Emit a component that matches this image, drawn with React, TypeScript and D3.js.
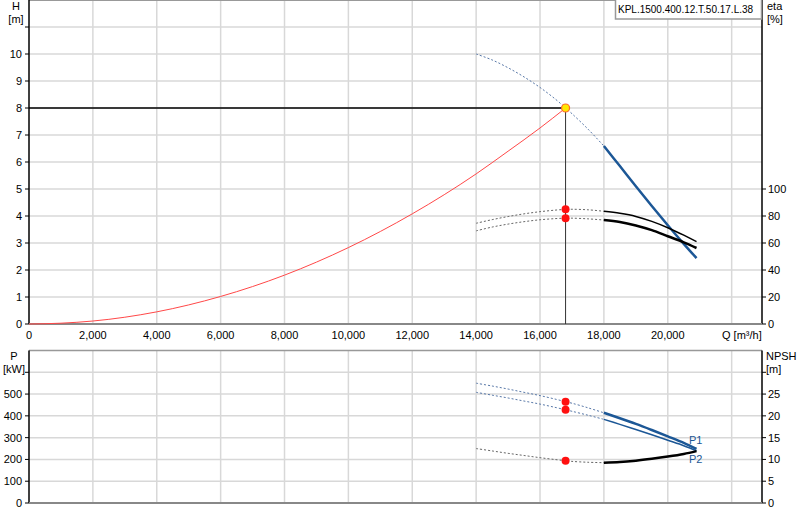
import * as d3 from "d3";
import { useEffect, useRef } from "react";

// flow axis ticks
const qTicks = [0, 2000, 4000, 6000, 8000, 10000, 12000, 14000, 16000, 18000, 20000, 22000];
const hTicks = [0, 1, 2, 3, 4, 5, 6, 7, 8, 9, 10];
const etaTicks = [0, 20, 40, 60, 80, 100];
const pTicks = [0, 100, 200, 300, 400, 500];
const npshTicks = [0, 5, 10, 15, 20, 25];

// system curve (red)
const sysQ = [0, 1000, 2000, 4000, 6000, 8000, 10000, 12000, 14000, 15000, 16000, 16800];
const sysH = [0, 0.03, 0.11, 0.45, 1.02, 1.81, 2.83, 4.08, 5.56, 6.4, 7.26, 8.0];

// pump curves
const pumpQ = [14000, 14500, 15000, 15500, 16000, 16500, 16800, 17000, 17500, 18000, 18500, 19000, 19500, 20000, 20500, 20900];
const pumpH = [10, 9.78, 9.49, 9.15, 8.76, 8.31, 8.0, 7.79, 7.22, 6.59, 5.85, 5.1, 4.37, 3.66, 2.97, 2.44];
const eta1 = [74.6, 77.3, 79.6, 81.6, 83.2, 84.4, 84.9, 85.0, 84.6, 83.5, 82.0, 79.7, 76.0, 71.3, 65.8, 61.0];
const eta2 = [69, 71.8, 74, 75.8, 77.2, 78.1, 78.4, 78.4, 77.9, 77.0, 75.6, 73.0, 69.5, 65.0, 60.5, 56.3];
const p1 = [550, 537, 523, 508, 493, 476, 465, 458, 437, 414, 389, 363, 335, 306, 276, 248];
const p2 = [508, 495, 482, 468, 454, 438, 428, 421, 403, 384, 361, 337, 313, 288, 263, 240];
const npsh = [12.5, 11.95, 11.4, 10.9, 10.4, 9.95, 9.7, 9.55, 9.35, 9.25, 9.4, 9.72, 10.15, 10.65, 11.25, 11.9];

// duty point
const dutyQ = 16800;
const dutyH = 8.0;
const dutyEta = [85, 78.4];
const dutyP = [465, 428];
const dutyNpsh = 9.7;
const solidFromQ = 18000;

const title = "KPL.1500.400.12.T.50.17.L.38";

export default function App() {
  const ref = useRef<SVGSVGElement>(null);

  useEffect(() => {
    if (!ref.current) return;
    const svg = d3.select(ref.current);
    svg.selectAll("*").remove();

    const font = "'Liberation Sans', Arial, sans-serif";
    const blue = "#1c5796";
    const grid = "#d8d8d8";

    const x = d3.scaleLinear().domain([0, 22950]).range([29, 762]);
    const yH = d3.scaleLinear().domain([0, 12]).range([324, 0]);
    const yEta = d3.scaleLinear().domain([0, 240]).range([324, 0]);
    const yP = d3.scaleLinear().domain([0, 700]).range([503, 350.5]);
    const yN = d3.scaleLinear().domain([0, 35]).range([503, 350.5]);

    // -----------------------------
    // Grids
    const drawGrid = (yTop: number, yBot: number, ys: number[]) => {
      const gg = svg.append("g").attr("stroke", grid).attr("stroke-width", 1.5);
      qTicks.slice(1).forEach((q) =>
        gg.append("line").attr("x1", x(q)).attr("x2", x(q)).attr("y1", yTop).attr("y2", yBot)
      );
      ys.forEach((y) => gg.append("line").attr("x1", 29).attr("x2", 762).attr("y1", y).attr("y2", y));
    };
    drawGrid(0, 324, d3.range(1, 12).map((v) => yH(v)));
    drawGrid(350.5, 503, d3.range(100, 700, 100).map((v) => yP(v)));

    // frame top borders
    svg.append("line").attr("x1", 29).attr("x2", 762).attr("y1", 0.5).attr("y2", 0.5).attr("stroke", "#999");
    svg.append("line").attr("x1", 29).attr("x2", 762).attr("y1", 350.5).attr("y2", 350.5).attr("stroke", "#999").attr("stroke-width", 1.5);

    // -----------------------------
    // Axes
    const axisText = (sel: any) =>
      sel.style("font-family", font).style("font-size", "11px").attr("fill", "#000");

    const leftAxis = (yTop: number, yBot: number, ticks: number[], scale: any, extra: number[]) => {
      const g = svg.append("g");
      g.append("line").attr("x1", 29).attr("x2", 29).attr("y1", yTop).attr("y2", yBot).attr("stroke", "#000").attr("stroke-width", 1.5);
      [...ticks, ...extra].forEach((t) =>
        g.append("line").attr("x1", 25).attr("x2", 29).attr("y1", scale(t)).attr("y2", scale(t)).attr("stroke", "#000")
      );
      ticks.forEach((t) =>
        axisText(g.append("text").attr("x", 22).attr("y", scale(t) + 4).attr("text-anchor", "end").text(String(t)))
      );
    };
    const rightAxis = (yTop: number, yBot: number, ticks: number[], scale: any, extra: number[]) => {
      const g = svg.append("g");
      g.append("line").attr("x1", 762).attr("x2", 762).attr("y1", yTop).attr("y2", yBot).attr("stroke", "#000").attr("stroke-width", 1.5);
      [...ticks, ...extra].forEach((t) =>
        g.append("line").attr("x1", 762).attr("x2", 766).attr("y1", scale(t)).attr("y2", scale(t)).attr("stroke", "#000")
      );
      ticks.forEach((t) =>
        axisText(g.append("text").attr("x", 768).attr("y", scale(t) + 4).text(String(t)))
      );
    };

    leftAxis(0, 324, hTicks, yH, [11]);
    rightAxis(0, 324, etaTicks, yEta, []);
    leftAxis(350.5, 503, pTicks, yP, [600]);
    rightAxis(350.5, 503, npshTicks, yN, [30]);

    // x axes
    svg.append("line").attr("x1", 29).attr("x2", 762).attr("y1", 324).attr("y2", 324).attr("stroke", "#888").attr("stroke-width", 2);
    svg.append("line").attr("x1", 29).attr("x2", 762).attr("y1", 503).attr("y2", 503).attr("stroke", "#888").attr("stroke-width", 2);
    qTicks.slice(0, -1).forEach((q) =>
      axisText(svg.append("text").attr("x", x(q)).attr("y", 339).attr("text-anchor", "middle").text(d3.format(",")(q)))
    );
    axisText(svg.append("text").attr("x", 722).attr("y", 339).text("Q [m³/h]"));

    // axis titles
    const unit = (xx: number, y: number, a: string, b: string, anchor: string) => {
      axisText(svg.append("text").attr("x", xx).attr("y", y).attr("text-anchor", anchor).text(a));
      axisText(svg.append("text").attr("x", xx).attr("y", y + 13).attr("text-anchor", anchor).text(b));
    };
    unit(16, 10, "H", "[m]", "middle");
    unit(767, 10, "eta", "[%]", "start");
    unit(14, 360, "P", "[kW]", "middle");
    unit(766, 360, "NPSH", "[m]", "start");

    // -----------------------------
    // Curves
    const drawCurve = (
      vals: number[],
      yS: any,
      color: string,
      dashColor: string,
      width: number
    ) => {
      const pts = pumpQ.map((q, i) => [q, vals[i]] as [number, number]);
      const line = d3
        .line<[number, number]>()
        .x((d) => x(d[0]))
        .y((d) => yS(d[1]))
        .curve(d3.curveCatmullRom);
      svg.append("path")
        .attr("d", line(pts.filter((d) => d[0] <= solidFromQ)))
        .attr("fill", "none")
        .attr("stroke", dashColor)
        .attr("stroke-width", 1)
        .attr("stroke-dasharray", "2,2");
      svg.append("path")
        .attr("d", line(pts.filter((d) => d[0] >= solidFromQ)))
        .attr("fill", "none")
        .attr("stroke", color)
        .attr("stroke-width", width);
    };

    // system curve
    svg.append("path")
      .attr(
        "d",
        d3
          .line<number>()
          .x((d, i) => x(sysQ[i]))
          .y((d) => yH(d))
          .curve(d3.curveMonotoneX)(sysH)
      )
      .attr("fill", "none")
      .attr("stroke", "#ff4848")
      .attr("stroke-width", 1);

    drawCurve(pumpH, yH, blue, "#5878a8", 2.5);
    drawCurve(eta1, yEta, "#000", "#666", 1.5);
    drawCurve(eta2, yEta, "#000", "#666", 2.5);
    drawCurve(p1, yP, blue, "#5878a8", 2.5);
    drawCurve(p2, yP, blue, "#5878a8", 1.5);
    drawCurve(npsh, yN, "#000", "#666", 2.5);

    // duty lines
    svg.append("line").attr("x1", 29).attr("x2", x(dutyQ)).attr("y1", yH(dutyH)).attr("y2", yH(dutyH)).attr("stroke", "#000").attr("stroke-width", 1.5);
    svg.append("line").attr("x1", x(dutyQ)).attr("x2", x(dutyQ)).attr("y1", yH(dutyH)).attr("y2", 324).attr("stroke", "#333").attr("stroke-width", 1);

    // duty markers
    const dot = (cy: number) =>
      svg.append("circle").attr("cx", x(dutyQ)).attr("cy", cy).attr("r", 4).attr("fill", "#ff1010");
    dutyEta.forEach((e) => dot(yEta(e)));
    dutyP.forEach((p) => dot(yP(p)));
    dot(yN(dutyNpsh));
    svg.append("circle")
      .attr("cx", x(dutyQ))
      .attr("cy", yH(dutyH))
      .attr("r", 4)
      .attr("fill", "#ffe800")
      .attr("stroke", "#ff6a2a")
      .attr("stroke-width", 1.2);

    // P1 / P2 labels
    svg.append("text").attr("x", 689).attr("y", 444).attr("fill", blue).style("font-family", font).style("font-size", "11px").text("P1");
    svg.append("text").attr("x", 689).attr("y", 463).attr("fill", blue).style("font-family", font).style("font-size", "11px").text("P2");

    // -----------------------------
    // Title box
    const tb = svg.append("g");
    tb.append("rect").attr("x", 615.5).attr("y", -1).attr("width", 146).attr("height", 20).attr("fill", "#fff").attr("stroke", "#999").attr("stroke-width", 1.5);
    tb.append("text")
      .attr("x", 618)
      .attr("y", 13)
      .attr("fill", "#000")
      .style("font-family", font)
      .style("font-size", "10px")
      .text(title);
  }, []);

  return (
    <svg
      ref={ref}
      width={800}
      height={520}
      style={{ position: "absolute", left: 0, top: 0, background: "#fff" }}
    />
  );
}
